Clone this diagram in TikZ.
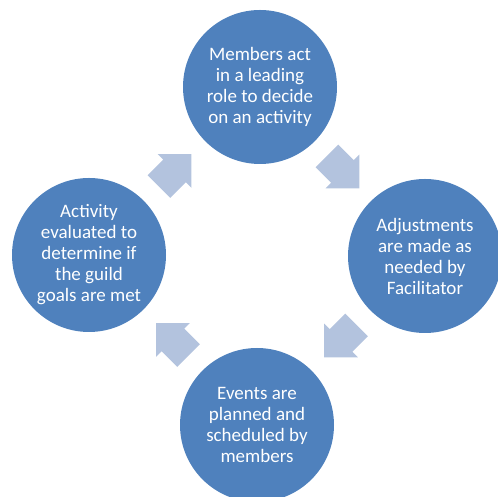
\documentclass[tikz,border=0pt]{standalone}
\usepackage{fontspec}
\setmainfont{Carlito}
\usetikzlibrary{calc}

\definecolor{stepblue}{HTML}{4F81BD}
\definecolor{arrowblue}{HTML}{B3C3DE}

\tikzset{
  stage/.style={circle, fill=stepblue, minimum size=154pt, inner sep=0pt,
    text=white, align=center, font=\fontsize{19}{21}\selectfont},
  arrowfill/.style={fill=arrowblue}
}

\begin{document}
\begin{tikzpicture}[x=1pt, y=1pt]
            \useasboundingbox (0, 0) rectangle (498, 497);
            \clip (0, 0) rectangle (498, 497);

            \node[stage] (decide) at (260, 410) {Members act\\in a leading\\role to decide\\on an activity};
            \node[stage] (adjust) at (425, 241) {Adjustments\\are made as\\needed by\\Facilitator};
            \node[stage] (plan) at (257, 72) {Events are\\planned and\\scheduled by\\members};
            \node[stage] (evaluate) at (89, 242) {Activity\\evaluated to\\determine if\\the guild\\goals are met};

            \newcommand{\cyclearrow}[2]{
                \fill[arrowfill, shift={(#1)}, rotate=#2]
                    (-22, -16) -- (0, -16) -- (0, -24) -- (24, 0) -- (0, 24) -- (0, 16) -- (-22, 16) -- cycle;
            }

            \coordinate (m1) at ($(evaluate)!0.5!(decide)$);
            \coordinate (m2) at ($(decide)!0.5!(adjust)$);
            \coordinate (m3) at ($(adjust)!0.5!(plan)$);
            \coordinate (m4) at ($(plan)!0.5!(evaluate)$);

            \cyclearrow{m1}{45};
            \cyclearrow{m2}{-45};
            \cyclearrow{m3}{-135};
            \cyclearrow{m4}{135};
        \end{tikzpicture}
\end{document}
